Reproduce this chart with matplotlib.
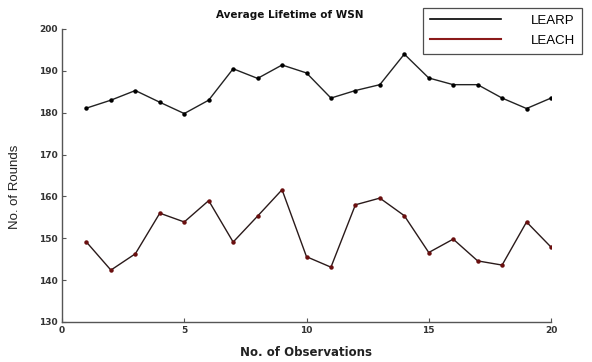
import numpy as np
import matplotlib.pyplot as plt
from matplotlib.lines import Line2D

# Observations 1..20
observations = list(range(1, 21))
learp = [181.1, 183.0, 185.3, 182.5, 179.8, 183.0, 190.5, 188.2, 191.4, 189.5,
         183.5, 185.3, 186.7, 194.0, 188.3, 186.7, 186.7, 183.5, 181.0, 183.5]
leach = [149.1, 142.4, 146.3, 156.0, 153.9, 159.0, 149.1, 155.3, 161.6, 145.6,
         143.1, 158.0, 159.6, 155.4, 146.6, 149.8, 144.6, 143.6, 153.9, 147.9]
xticks = [0, 5, 10, 15, 20]
yticks = [130, 140, 150, 160, 170, 180, 190, 200]

plt.rcParams['font.family'] = ['DejaVu Sans']

fig = plt.figure(figsize=(5.92, 3.62), dpi=100)
ax = fig.add_axes([62/592, 40/362, 489/592, 293/362])

ax.plot(observations, learp, color='#222222', lw=1.0, marker='o', ms=2.2,
        mfc='black', mec='black')
ax.plot(observations, leach, color='#2a1a1a', lw=1.0, marker='o', ms=2.2,
        mfc='#6a0f0f', mec='#6a0f0f')

ax.set_xlim(0, 20)
ax.set_ylim(130, 200)
ax.set_xticks(xticks)
ax.set_yticks(yticks)
ax.tick_params(direction='in', length=3, width=0.8, color='#555555',
               labelsize=6.5, labelcolor='#333333', pad=3)
for lab in ax.get_xticklabels() + ax.get_yticklabels():
    lab.set_fontweight('bold')
for s in ['top', 'right']:
    ax.spines[s].set_visible(False)
for s in ['left', 'bottom']:
    ax.spines[s].set_color('#555555')
    ax.spines[s].set_linewidth(1.0)

fig.text(290/592, 1 - 15/362, 'Average Lifetime of WSN', ha='center', va='center',
         fontsize=7.5, fontweight='bold', color='#111111')
fig.text(15/592, 175/362, 'No. of Rounds', rotation=90, ha='center', va='center',
         fontsize=9.5, color='#222222', fontfamily='Liberation Sans')
fig.text(306/592, 1 - 353/362, 'No. of Observations', ha='center', va='center',
         fontsize=8.5, fontweight='bold', color='#222222')

# legend box drawn by hand handles
handles = [Line2D([0], [0], color='black', lw=1.2),
           Line2D([0], [0], color='#8b1a1a', lw=1.5)]
leg = fig.legend(handles, ['LEARP', 'LEACH'], loc='upper left',
                 bbox_to_anchor=(423/592, 1 - 8/362), frameon=True, fancybox=False,
                 edgecolor='#222222', fontsize=9.5, handlelength=5.4, handletextpad=2.3,
                 borderpad=0.5, labelspacing=0.6, borderaxespad=0)
leg.get_frame().set_linewidth(0.9)
for t in leg.get_texts():
    t.set_fontfamily('Liberation Sans')

fig.savefig('out.png', dpi=100)
